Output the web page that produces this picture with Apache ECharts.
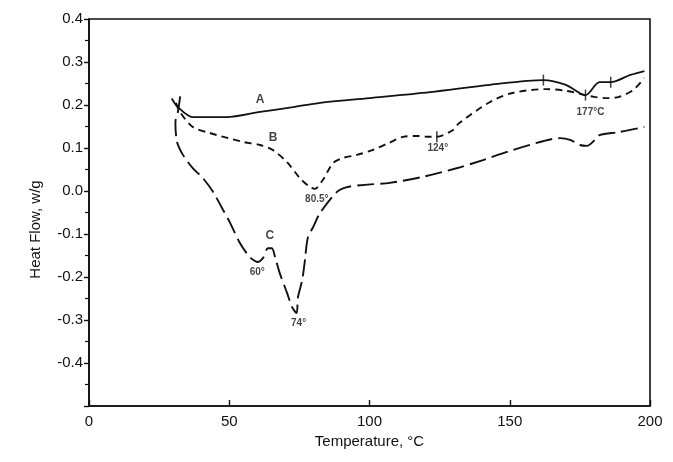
<!DOCTYPE html>
<html>
<head>
<meta charset="utf-8">
<script src="https://cdn.jsdelivr.net/npm/echarts@6/dist/echarts.min.js"></script>
<style>
  html, body { margin: 0; padding: 0; background: #fff; }
  #chart { width: 673px; height: 462px; }
</style>
</head>
<body>
<div id="chart"></div>
<script>
// DSC traces: heat flow (w/g) against temperature (°C)
const tempA = [29.5, 31.7, 37, 49, 61, 72.7, 82.4, 100, 121.6, 143, 162, 170, 177, 182, 186, 193, 198];
const flowA = [0.215, 0.195, 0.172, 0.172, 0.184, 0.195, 0.205, 0.216, 0.230, 0.247, 0.258, 0.247, 0.223, 0.253, 0.253, 0.270, 0.279];

const tempB = [31, 32.4, 37, 43, 55, 61, 65.6, 70.6, 75.2, 78.8, 80.5, 83.4, 87, 90.6, 95.5, 101, 107, 112, 117, 121, 124, 129.8, 132, 143, 151, 163, 170, 177, 180, 184.7, 189, 194, 198];
const flowB = [0.205, 0.184, 0.149, 0.135, 0.114, 0.107, 0.095, 0.067, 0.030, 0.009, 0.005, 0.026, 0.065, 0.077, 0.084, 0.095, 0.112, 0.126, 0.128, 0.126, 0.126, 0.142, 0.158, 0.207, 0.228, 0.237, 0.233, 0.223, 0.219, 0.216, 0.219, 0.235, 0.263];

const tempC = [32.5, 31.7, 30.8, 31.4, 33.5, 37, 40.6, 44.2, 47.8, 50.3, 53.8, 56.7, 58.5, 60, 62, 63.8, 65.2, 66.3, 68, 70.6, 72.4, 74, 74.5, 76, 77, 78, 79.9, 82.4, 88.4, 92, 97.7, 107.3, 119, 131, 140.5, 149, 160.8, 168, 171.5, 175, 177.5, 180.4, 182, 189, 198];
const flowC = [0.22, 0.184, 0.160, 0.114, 0.084, 0.053, 0.030, -0.002, -0.044, -0.074, -0.121, -0.149, -0.160, -0.165, -0.156, -0.133, -0.133, -0.153, -0.191, -0.237, -0.270, -0.284, -0.247, -0.207, -0.160, -0.109, -0.084, -0.051, -0.002, 0.009, 0.014, 0.019, 0.033, 0.053, 0.072, 0.091, 0.114, 0.123, 0.119, 0.107, 0.105, 0.119, 0.130, 0.137, 0.149];

const xTicks = [0, 50, 100, 150, 200];
const yTicks = [0.4, 0.3, 0.2, 0.1, 0.0, -0.1, -0.2, -0.3, -0.4];

// Curve names and the temperature each is labelled at
const curveLabels = ['A', 'B', 'C'];
const curveLabelTemps = [61, 65.6, 65.2];

// Peak temperatures marked on the traces
const peakCurve = ['C', 'C', 'B', 'B', 'A'];
const peakTemps = [60, 74, 80.5, 124, 177];
const peakText = ['60°', '74°', '80.5°', '124°', '177°C'];

// Onset / end marks (short vertical strokes) on the traces
const markCurve = ['A', 'A', 'A', 'B'];
const markTemps = [162, 177, 186, 124];

const curves = {
  A: { t: tempA, v: flowA },
  B: { t: tempB, v: flowB },
  C: { t: tempC, v: flowC }
};
function flowAt(name, temp) {
  const c = curves[name];
  let best = 0;
  for (let i = 0; i < c.t.length; i++) {
    if (Math.abs(c.t[i] - temp) < Math.abs(c.t[best] - temp)) best = i;
  }
  return c.v[best];
}
const pairs = (t, v) => t.map((x, i) => [x, v[i]]);

const ink = '#111';
const chart = echarts.init(document.getElementById('chart'));

const letterOffsets = { A: [0, -12], B: [0, -12], C: [-2, -13] };
const peakOffsets = [[0, 10], [2, 10], [2, 10], [1, 11], [5, 17]];

chart.setOption({
  animation: false,
  backgroundColor: '#fff',
  grid: { left: 89, right: 23, top: 19, bottom: 56, show: true, borderColor: ink, borderWidth: 1.6 },
  xAxis: {
    type: 'value', min: 0, max: 200, interval: 50,
    name: 'Temperature, °C', nameLocation: 'middle', nameGap: 26,
    nameTextStyle: { fontFamily: 'Liberation Sans', fontSize: 15, color: ink },
    axisLine: { onZero: false, lineStyle: { color: ink, width: 1.6 } },
    axisTick: { inside: true, length: 6, lineStyle: { color: ink, width: 1.4 } },
    axisLabel: {
      fontFamily: 'Liberation Sans', fontSize: 15, color: ink, margin: 8,
      formatter: v => xTicks.includes(v) ? String(v) : ''
    },
    splitLine: { show: false }
  },
  yAxis: {
    type: 'value', min: -0.5, max: 0.4, interval: 0.1,
    name: 'Heat Flow, w/g', nameLocation: 'middle', nameGap: 46,
    nameTextStyle: { fontFamily: 'Liberation Sans', fontSize: 15, color: ink, padding: [0, 0, 0, -34] },
    axisLine: { onZero: false, lineStyle: { color: ink, width: 1.6 } },
    axisTick: { length: 5, lineStyle: { color: ink, width: 1.4 } },
    minorTick: { show: true, splitNumber: 2, length: 4, lineStyle: { color: ink, width: 1.2 } },
    axisLabel: {
      fontFamily: 'Liberation Sans', fontSize: 15, color: ink, margin: 6,
      formatter: v => {
        const r = Math.round(v * 10) / 10;
        const hit = yTicks.find(t => Math.abs(t - r) < 1e-9);
        return hit === undefined ? '' : hit.toFixed(1);
      }
    },
    splitLine: { show: false }
  },
  series: [
    {
      name: 'A', type: 'line', data: pairs(tempA, flowA), showSymbol: false, smooth: 0.3,
      lineStyle: { color: ink, width: 1.8 }
    },
    {
      name: 'B', type: 'line', data: pairs(tempB, flowB), showSymbol: false, smooth: 0.3,
      lineStyle: { color: ink, width: 1.9, type: [7, 5] }
    },
    {
      name: 'C', type: 'line', data: pairs(tempC, flowC), showSymbol: false, smooth: 0.3,
      lineStyle: { color: ink, width: 1.9, type: [17, 6] }
    },
    {
      name: 'marks', type: 'scatter', silent: true,
      symbol: 'rect', symbolSize: [1.5, 11],
      itemStyle: { color: ink },
      data: markTemps.map((t, i) => [t, flowAt(markCurve[i], t)])
    },
    {
      name: 'letters', type: 'scatter', silent: true, symbolSize: 0,
      data: curveLabels.map((n, i) => ({
        value: [curveLabelTemps[i], flowAt(n, curveLabelTemps[i])],
        label: { show: true, formatter: n, offset: letterOffsets[n] }
      })),
      label: { fontFamily: 'Liberation Sans', fontSize: 12, fontWeight: 'bold', color: ink }
    },
    {
      name: 'peaks', type: 'scatter', silent: true, symbolSize: 0,
      data: peakTemps.map((t, i) => ({
        value: [t, flowAt(peakCurve[i], t)],
        label: { show: true, formatter: peakText[i], offset: peakOffsets[i] }
      })),
      label: { fontFamily: 'Liberation Sans', fontSize: 10, fontWeight: 'bold', color: ink }
    }
  ]
});
</script>
</body>
</html>
